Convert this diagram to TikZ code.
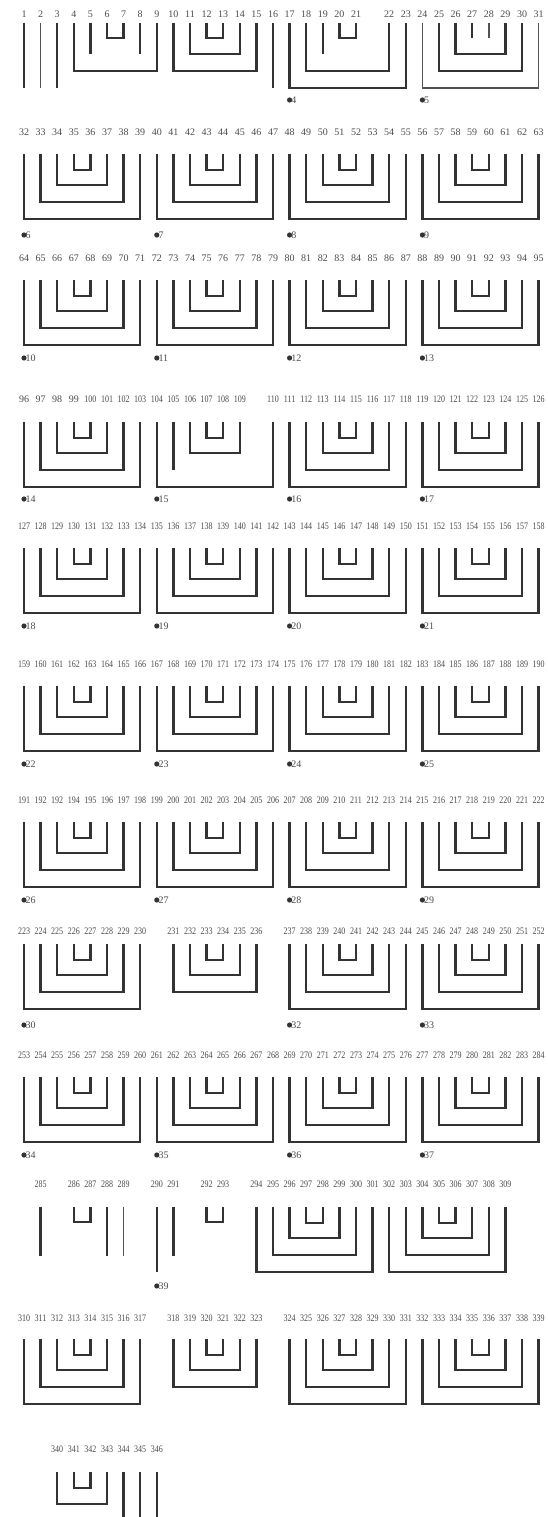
\documentclass[tikz,border=0pt]{standalone}
\usepackage{fontspec}
\setmainfont{Liberation Serif}
\newfontfamily\numnarrow[FakeStretch=0.8]{Liberation Serif}
\usepackage{tikz}
\usetikzlibrary{calc,positioning}
\usepackage{xcolor}
\definecolor{inkline}{gray}{0.2}
\definecolor{inknum}{gray}{0.3}

\tikzset{
  num/.style={font=\fontsize{10}{10}\selectfont,text=inknum,inner sep=0pt},
  numw/.style={font=\numnarrow\fontsize{10}{10}\selectfont,text=inknum,inner sep=0pt},
  lnk/.style={draw=inkline,line width=2.4pt,line join=miter},
  lnkthin/.style={draw=inkline!85,line width=1.4pt,line join=miter},
  dotlbl/.style={num,right=1.5pt}
}
% numbers #2..#4 in a row at height #1, the first one under slot #3
\newcommand\numrun[4]{\foreach \n in {#2,...,#4}{%
  \ifnum\n>99 \node[numw] (n\n) at ({#3+\n-#2},#1) {\n};%
  \else \node[num] (n\n) at ({#3+\n-#2},#1) {\n};\fi}}
% [style]{top}{from}{to}{bottom}
\newcommand\ubk[5][lnk]{\draw[#1] (n#3 |- 0,#2) -- (n#3 |- 0,#5) -- (n#4 |- 0,#5) -- (n#4 |- 0,#2);}
% [style]{top}{at}{bottom}
\newcommand\vln[4][lnk]{\draw[#1] (n#3 |- 0,#2) -- (n#3 |- 0,#4);}
% four nested brackets over eight numbers
\newcommand\nestgrp[2]{\foreach \j/\d in {0/65,1/48,2/31,3/16}{%
  \pgfmathtruncatemacro\ga{#2+\j}\pgfmathtruncatemacro\gb{#2+7-\j}%
  \ubk{#1}{\ga}{\gb}{#1+\d}}}
\newcommand\grpdot[3]{\fill[inkline] (n#1 |- 0,#2) circle (2.6pt) node[dotlbl] (d#3) {#3};}

\begin{document}
\begin{tikzpicture}[x=16.6pt,y=-1pt]
  \useasboundingbox[fill=white] (0pt,0pt) rectangle (548pt,-1517pt);
  \begin{scope}[xshift=7.4pt]
  % row 1
  \numrun{14}{1}{1}{21}\numrun{14}{22}{23}{31}
  \vln{23}{1}{88}\vln[lnkthin]{23}{2}{88}\vln{23}{3}{88}
  \ubk{23}{4}{9}{71}\vln{23}{5}{54}\vln{23}{8}{54}\ubk{23}{6}{7}{38}
  \ubk{23}{10}{15}{71}\ubk{23}{11}{14}{54}\ubk{23}{12}{13}{38}
  \vln{23}{16}{88}
  \ubk{23}{17}{23}{88}\ubk{23}{18}{22}{71}\vln{23}{19}{54}\ubk{23}{20}{21}{38}
  \ubk[lnkthin]{23}{24}{31}{88}\ubk{23}{25}{30}{71}\ubk{23}{26}{29}{54}
  \vln{23}{27}{38}\vln[lnkthin]{23}{28}{38}
  \grpdot{17}{100}{4}\grpdot{24}{100}{5}
  % row 2
  \numrun{132}{32}{1}{63}
  \foreach \g in {32,40,48,56} {\nestgrp{154}{\g}}
  \grpdot{32}{235}{6}\grpdot{40}{235}{7}\grpdot{48}{235}{8}\grpdot{56}{235}{9}
  % row 3
  \numrun{258}{64}{1}{95}
  \foreach \g in {64,72,80,88} {\nestgrp{280}{\g}}
  \grpdot{64}{358}{10}\grpdot{72}{358}{11}\grpdot{80}{358}{12}\grpdot{88}{358}{13}
  % row 4
  \numrun{399}{96}{1}{109}\numrun{399}{110}{16}{126}
  \nestgrp{422}{96}
  \ubk{422}{104}{110}{487}\vln{422}{105}{470}\ubk{422}{106}{109}{453}\ubk{422}{107}{108}{438}
  \nestgrp{422}{111}\nestgrp{422}{119}
  \grpdot{96}{499}{14}\grpdot{104}{499}{15}\grpdot{111}{499}{16}\grpdot{119}{499}{17}
  % row 5
  \numrun{526}{127}{1}{158}
  \foreach \g in {127,135,143,151} {\nestgrp{548}{\g}}
  \grpdot{127}{626}{18}\grpdot{135}{626}{19}\grpdot{143}{626}{20}\grpdot{151}{626}{21}
  % row 6
  \numrun{664}{159}{1}{190}
  \foreach \g in {159,167,175,183} {\nestgrp{686}{\g}}
  \grpdot{159}{764}{22}\grpdot{167}{764}{23}\grpdot{175}{764}{24}\grpdot{183}{764}{25}
  % row 7
  \numrun{800}{191}{1}{192}\node[numw] (n193) at (3,800) {192};\numrun{800}{194}{4}{222}
  \foreach \g in {191,199,207,215} {\nestgrp{822}{\g}}
  \grpdot{191}{900}{26}\grpdot{199}{900}{27}\grpdot{207}{900}{28}\grpdot{215}{900}{29}
  % row 8
  \numrun{931}{223}{1}{230}\numrun{931}{231}{10}{236}\numrun{931}{237}{17}{252}
  \nestgrp{944}{223}
  \ubk{944}{231}{236}{992}\ubk{944}{232}{235}{975}\ubk{944}{233}{234}{960}
  \nestgrp{944}{237}\nestgrp{944}{245}
  \grpdot{223}{1025}{30}\grpdot{237}{1025}{32}\grpdot{245}{1025}{33}
  % row 9
  \numrun{1055}{253}{1}{284}
  \foreach \g in {253,261,269,277} {\nestgrp{1077}{\g}}
  \grpdot{253}{1155}{34}\grpdot{261}{1155}{35}\grpdot{269}{1155}{36}\grpdot{277}{1155}{37}
  % row 10
  \numrun{1184}{285}{2}{285}\numrun{1184}{286}{4}{289}\numrun{1184}{290}{9}{291}
  \numrun{1184}{292}{12}{293}\numrun{1184}{294}{15}{309}
  \vln{1207}{285}{1256}\ubk{1207}{286}{287}{1222}\vln{1207}{288}{1256}\vln[lnkthin]{1207}{289}{1256}
  \vln{1207}{290}{1272}\vln{1207}{291}{1256}\ubk{1207}{292}{293}{1222}
  \nestgrp{1207}{294}\nestgrp{1207}{302}
  \grpdot{290}{1286}{39}
  % row 11
  \numrun{1318}{310}{1}{317}\numrun{1318}{318}{10}{323}\numrun{1318}{324}{17}{339}
  \nestgrp{1339}{310}
  \ubk{1339}{318}{323}{1387}\ubk{1339}{319}{322}{1370}\ubk{1339}{320}{321}{1355}
  \nestgrp{1339}{324}\nestgrp{1339}{332}
  % row 12
  \numrun{1449}{340}{3}{346}
  \ubk{1472}{340}{343}{1504}\ubk{1472}{341}{342}{1488}
  \foreach \k in {344,345,346} {\vln{1472}{\k}{1520}}
  \end{scope}
\end{tikzpicture}
\end{document}
